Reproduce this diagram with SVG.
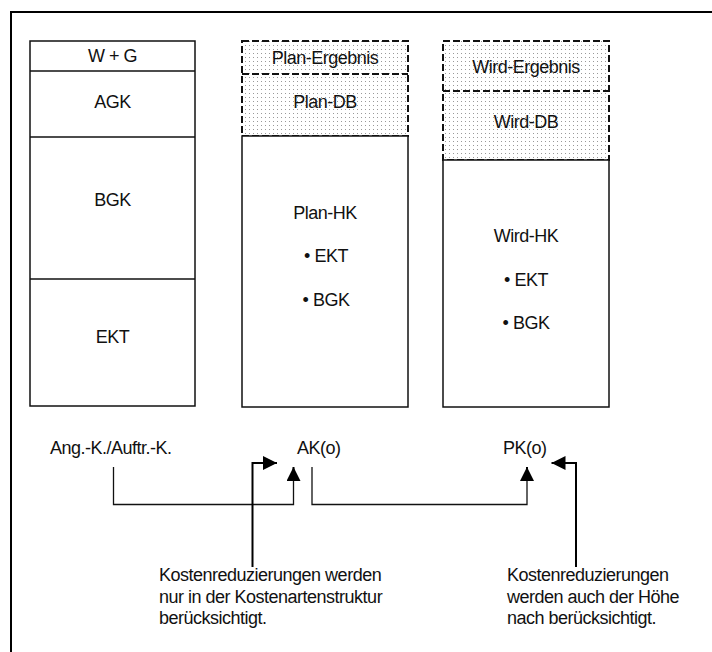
<svg xmlns="http://www.w3.org/2000/svg" width="712" height="652" viewBox="0 0 712 652">
<defs>
<pattern id="dots" width="4" height="4" patternUnits="userSpaceOnUse">
<rect x="1" y="1" width="1" height="1" fill="#999"/>
</pattern>
<marker id="ah" viewBox="0 0 10 10" refX="10" refY="5" markerWidth="14" markerHeight="14" markerUnits="userSpaceOnUse" orient="auto">
<path d="M0,0 L10,5 L0,10 z" fill="#000"/>
</marker>
</defs>
<style>
text{font-family:"Liberation Sans",Arial,sans-serif;font-size:18px;letter-spacing:-0.5px;fill:#111}
.c{text-anchor:middle}
.box{fill:#fff;stroke:#111;stroke-width:1.5}
.dash{fill:url(#dots);stroke:#111;stroke-width:2;stroke-dasharray:7 3}
.dl{fill:none;stroke:#111;stroke-width:2;stroke-dasharray:7 3}
.ln{fill:none;stroke:#111;stroke-width:1.3}
.ar{fill:none;stroke:#000;stroke-width:2;marker-end:url(#ah)}
</style>
<rect width="712" height="652" fill="#fff"/>
<path d="M11,652 V12 H712" fill="none" stroke="#000" stroke-width="2"/>

<g id="col-ang">
<rect class="box" x="30" y="41" width="165" height="365"/>
<line class="ln" x1="30" y1="71" x2="195" y2="71"/>
<line class="ln" x1="30" y1="137" x2="195" y2="137"/>
<line class="ln" x1="30" y1="279" x2="195" y2="279"/>
<text class="c" x="112.5" y="62">W + G</text>
<text class="c" x="112.5" y="108">AGK</text>
<text class="c" x="112.5" y="206">BGK</text>
<text class="c" x="112.5" y="343">EKT</text>
</g>

<g id="col-plan">
<rect class="dash" x="242" y="41" width="166" height="95"/>
<line class="dl" x1="242" y1="74" x2="408" y2="74"/>
<rect class="box" x="242" y="136" width="166" height="271"/>
<text class="c" x="325" y="64">Plan-Ergebnis</text>
<text class="c" x="325" y="108">Plan-DB</text>
<text class="c" x="325" y="219">Plan-HK</text>
<text class="c" x="326" y="262">• EKT</text>
<text class="c" x="326" y="306">• BGK</text>
</g>

<g id="col-wird">
<rect class="dash" x="443" y="41" width="166" height="119"/>
<line class="dl" x1="443" y1="91" x2="609" y2="91"/>
<rect class="box" x="443" y="160" width="166" height="247"/>
<text class="c" x="526" y="73">Wird-Ergebnis</text>
<text class="c" x="526" y="128">Wird-DB</text>
<text class="c" x="526" y="242">Wird-HK</text>
<text class="c" x="526" y="286">• EKT</text>
<text class="c" x="526" y="329">• BGK</text>
</g>

<g id="label-ang"><text x="50" y="454">Ang.-K./Auftr.-K.</text></g>
<g id="label-ak"><text x="297" y="454">AK(o)</text></g>
<g id="label-pk"><text x="503" y="454">PK(o)</text></g>

<g id="note-left">
<text x="159" y="581">Kostenreduzierungen werden</text>
<text x="159" y="602.5">nur in der Kostenartenstruktur</text>
<text x="159" y="624">berücksichtigt.</text>
</g>
<g id="note-right">
<text x="507" y="581">Kostenreduzierungen</text>
<text x="507" y="602.5">werden auch der Höhe</text>
<text x="507" y="624">nach berücksichtigt.</text>
</g>

<g id="connectors">
<path class="ln" d="M113.5,467 V504.5 H293.5 V480"/>
<path class="ar" d="M293.5,481 V467"/>
<path class="ln" d="M312,467 V504.5 H527 V480"/>
<path class="ar" d="M527,481 V467"/>
<path class="ar" d="M252.5,567 V463 H277"/>
<path class="ar" d="M576,567 V463 H551.5"/>
</g>
</svg>
